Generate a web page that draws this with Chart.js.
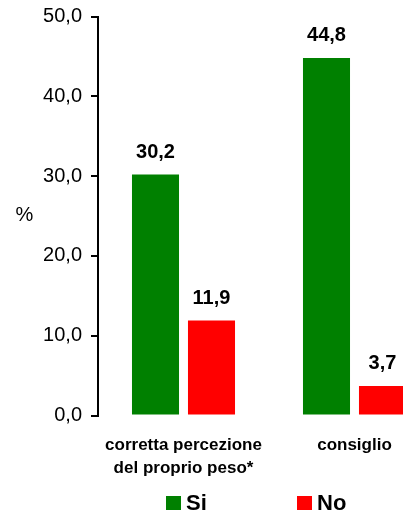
<!DOCTYPE html>
<html>
<head>
<meta charset="utf-8">
<script src="https://cdn.jsdelivr.net/npm/chart.js@4/dist/chart.umd.min.js"></script>
<style>
  html, body { margin: 0; padding: 0; background: #fff; overflow: hidden; }
  #wrap { width: 403px; height: 513px; overflow: hidden; position: relative; }
  canvas { display: block; }
</style>
</head>
<body>
<div id="wrap"><canvas id="c" width="440" height="513"></canvas></div>
<script>
// Categories and series
const categories = [["corretta percezione", "del proprio peso*"], "consiglio"];
const seriesNames = ["Si", "No"];
const siValues = [30.2, 44.8];
const noValues = [11.9, 3.7];
const yTicks = [0, 10, 20, 30, 40, 50];
const yTitle = "%";

const GREEN = "#008000";
const RED = "#FF0000";
const FONT = "'Liberation Sans', Arial, Helvetica, sans-serif";

const fmt = v => v.toFixed(1).replace(".", ",");

// Value labels above each bar
const valueLabels = {
  id: "valueLabels",
  afterDatasetsDraw(chart) {
    const ctx = chart.ctx;
    ctx.save();
    ctx.font = "bold 20px " + FONT;
    ctx.fillStyle = "#000";
    ctx.textAlign = "center";
    ctx.textBaseline = "alphabetic";
    chart.data.datasets.forEach((ds, i) => {
      chart.getDatasetMeta(i).data.forEach((bar, j) => {
        ctx.fillText(fmt(ds.data[j]), bar.x, bar.y - 17);
      });
    });
    ctx.restore();
  }
};

// Horizontal "%" title beside the value axis, and the legend row below
const extras = {
  id: "extras",
  afterDraw(chart) {
    const ctx = chart.ctx;
    ctx.save();
    ctx.fillStyle = "#000";
    ctx.font = "20px " + FONT;
    ctx.textAlign = "center";
    ctx.textBaseline = "middle";
    ctx.fillText(yTitle, 24.5, 215);

    const items = [
      { x: 166, label: chart.data.datasets[0].label, color: chart.data.datasets[0].backgroundColor },
      { x: 297, label: chart.data.datasets[1].label, color: chart.data.datasets[1].backgroundColor }
    ];
    ctx.font = "bold 22px " + FONT;
    ctx.textAlign = "left";
    ctx.textBaseline = "alphabetic";
    items.forEach(it => {
      ctx.fillStyle = it.color;
      ctx.fillRect(it.x, 496, 15, 14);
      ctx.fillStyle = "#000";
      ctx.fillText(it.label, it.x + 20, 510);
    });
    ctx.restore();
  }
};

new Chart(document.getElementById("c"), {
  type: "bar",
  data: {
    labels: categories,
    datasets: [
      { label: seriesNames[0], data: siValues, backgroundColor: GREEN,
        categoryPercentage: 0.655, barPercentage: 0.84 },
      { label: seriesNames[1], data: noValues, backgroundColor: RED,
        categoryPercentage: 0.655, barPercentage: 0.84 }
    ]
  },
  options: {
    responsive: false,
    animation: false,
    devicePixelRatio: 1,
    layout: { padding: { top: 16.5, right: 0, left: 0, bottom: 0 } },
    plugins: { legend: { display: false }, tooltip: { enabled: false } },
    scales: {
      x: {
        grid: { display: false, drawTicks: false },
        border: { display: false },
        ticks: {
          color: "#000",
          font: { family: FONT, size: 17, weight: "bold", lineHeight: 1.35 },
          padding: 18,
          maxRotation: 0,
          autoSkip: false
        },
        afterFit(scale) { scale.height = 97.5; }
      },
      y: {
        min: 0,
        max: 50,
        afterBuildTicks(scale) { scale.ticks = yTicks.map(v => ({ value: v })); },
        grid: { drawOnChartArea: false, drawTicks: true, tickLength: 7, color: "#000", lineWidth: 2 },
        border: { display: true, color: "#000", width: 2 },
        ticks: {
          color: "#000",
          font: { family: FONT, size: 20 },
          padding: 9,
          callback: v => fmt(v)
        },
        afterFit(scale) {
          scale.width = 98;
          scale.paddingTop = 0;
          scale.paddingBottom = 0;
        }
      }
    }
  },
  plugins: [valueLabels, extras]
});
</script>
</body>
</html>
